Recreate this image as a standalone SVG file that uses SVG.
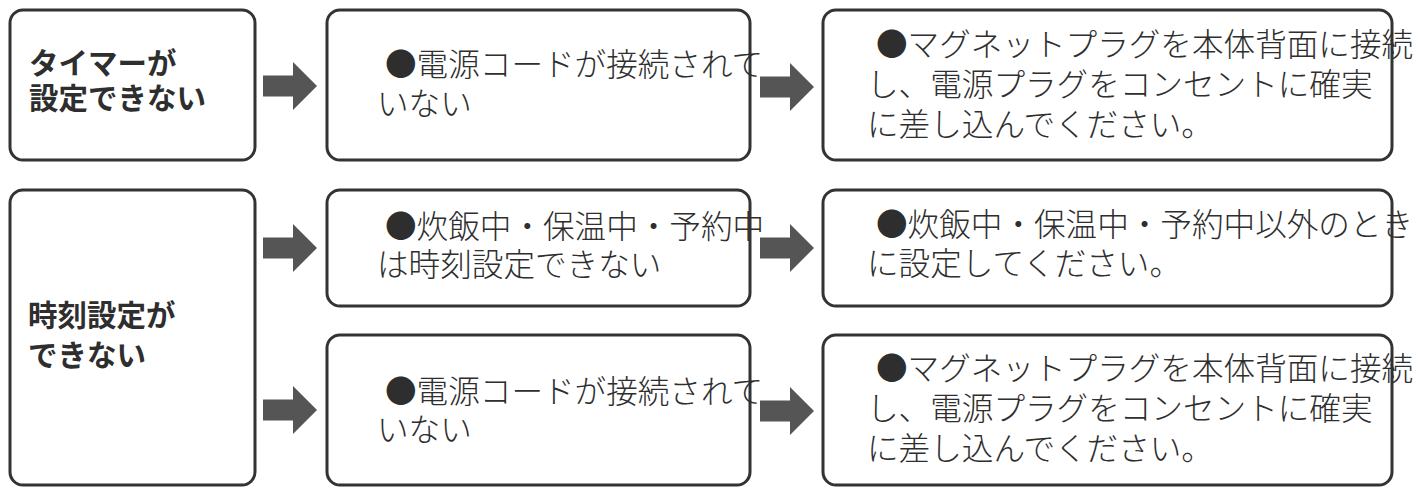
<svg xmlns="http://www.w3.org/2000/svg" width="1418" height="493" viewBox="0 0 1418 493">
<style>
.box{fill:#fff;stroke:#333;stroke-width:3}
.t{font-family:"Noto Sans CJK JP","Noto Sans",sans-serif;fill:#2e2e2e}
.h{font-size:29.5px;font-weight:700}
.b{font-size:31.6px;font-weight:300}
.arr{fill:#555}
</style>
<defs>
<polygon id="arrow" class="arr" points="0,-10.5 30,-10.5 30,-24 54,0 30,24 30,10.5 0,10.5"/>
</defs>
<rect width="1418" height="493" fill="#fff"/>
<g id="n1"><rect class="box" x="10" y="10" width="245" height="150" rx="13"/>
<text class="t h" x="29" y="74">タイマーが</text><text class="t h" x="29" y="109">設定できない</text></g>
<g id="n2"><rect class="box" x="327" y="10" width="423" height="150" rx="13"/>
<text class="t b" x="385" y="76">●電源コードが接続されて</text><text class="t b" x="377" y="115">いない</text></g>
<g id="n3"><rect class="box" x="823" y="10" width="569" height="150" rx="13"/>
<text class="t b" x="876" y="56">●マグネットプラグを本体背面に接続</text><text class="t b" x="867" y="96">し、電源プラグをコンセントに確実</text><text class="t b" x="867" y="136">に差し込んでください。</text></g>
<g id="n4"><rect class="box" x="10" y="190" width="245" height="295" rx="13"/>
<text class="t h" x="28" y="326">時刻設定が</text><text class="t h" x="28" y="366">できない</text></g>
<g id="n5"><rect class="box" x="327" y="190" width="423" height="116" rx="13"/>
<text class="t b" x="385" y="238">●炊飯中・保温中・予約中</text><text class="t b" x="377" y="276">は時刻設定できない</text></g>
<g id="n6"><rect class="box" x="823" y="190" width="569" height="116" rx="13"/>
<text class="t b" x="876" y="236">●炊飯中・保温中・予約中以外のとき</text><text class="t b" x="867" y="275">に設定してください。</text></g>
<g id="n7"><rect class="box" x="327" y="335" width="423" height="150" rx="13"/>
<text class="t b" x="385" y="403">●電源コードが接続されて</text><text class="t b" x="377" y="441">いない</text></g>
<g id="n8"><rect class="box" x="823" y="335" width="569" height="150" rx="13"/>
<text class="t b" x="876" y="380">●マグネットプラグを本体背面に接続</text><text class="t b" x="867" y="420">し、電源プラグをコンセントに確実</text><text class="t b" x="867" y="460">に差し込んでください。</text></g>
<g id="connectors">
<use href="#arrow" x="263" y="86"/>
<use href="#arrow" x="760" y="87"/>
<use href="#arrow" x="263" y="248"/>
<use href="#arrow" x="760" y="248"/>
<use href="#arrow" x="263" y="410"/>
<use href="#arrow" x="760" y="411"/>
</g>
</svg>
